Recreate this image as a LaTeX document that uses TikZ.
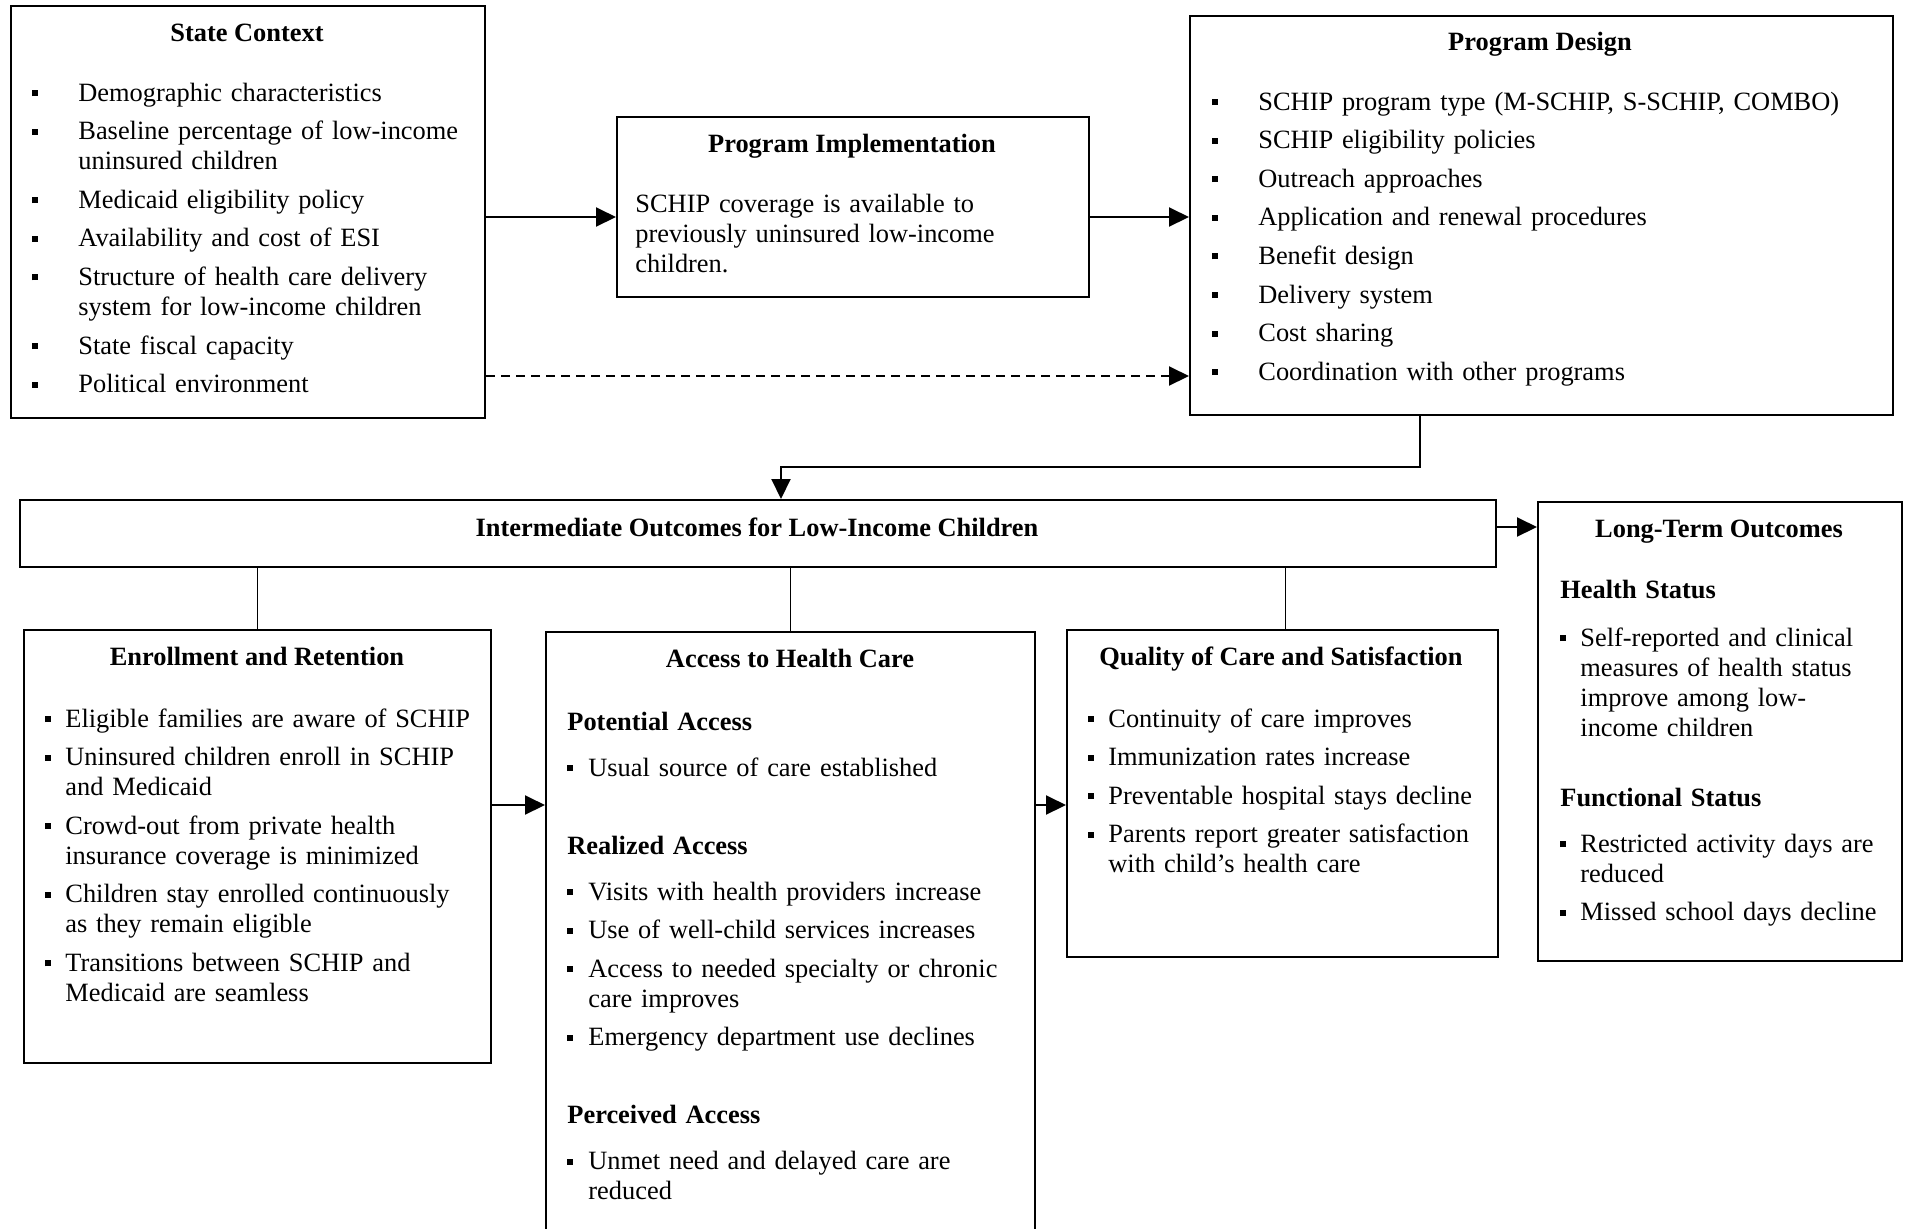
\documentclass[tikz,border=0pt]{standalone}
\usepackage{fontspec}
\setmainfont{Liberation Serif}
\usetikzlibrary{arrows.meta, positioning, calc}

\newlength{\itind}
\newlength{\itsep}
\setlength{\itsep}{4.3pt}
\newcommand{\bsq}{\rule[2.5pt]{3pt}{3pt}}
\newcommand{\nl}{\hfil\break}
\newcommand{\bitem}[1]{\hangindent=\itind\hangafter=1\makebox[\itind][l]{\bsq}#1\par\vspace{\itsep}}
\newcommand{\bhead}[2]{\textbf{#1}\par\vspace{#2}}

\begin{document}
\begin{tikzpicture}[
    x=0.5pt, y=-0.5pt,
    every node/.style={font=\fontsize{13.2}{15}\selectfont},
    box/.style={draw, line width=1pt, anchor=north west, inner sep=0pt},
    title/.style={anchor=base, inner sep=0pt, font=\fontsize{13.2}{15}\selectfont\bfseries},
    blist/.style={anchor=base west, inner sep=0pt, align=left, text width=#1,
        execute at begin node={\fontsize{13.2}{15}\selectfont}},
    ind/.code={\setlength{\itind}{#1}},
    arr/.style={line width=1pt, -{Triangle[length=10pt, width=9.5pt]}},
    link/.style={line width=0.6pt}
]
\useasboundingbox (0,0) rectangle (1908,1228);

% Top row
\node[box, minimum width=237pt, minimum height=206pt] (ctx) at (10,5) {};
\node[title] (ctxtitle) at (247,41) {State Context};
\node[blist=224pt, ind=23pt] (ctxlist) at (32,101) {%
    \bitem{Demographic characteristics}
    \bitem{Baseline percentage of low-income\nl uninsured children}
    \bitem{Medicaid eligibility policy}
    \bitem{Availability and cost of ESI}
    \bitem{Structure of health care delivery\nl system for low-income children}
    \bitem{State fiscal capacity}
    \bitem{Political environment}};

\node[box, minimum width=236pt, minimum height=90pt] (impl) at (616,116) {};
\node[title] (impltitle) at (852,152) {Program Implementation};
\node[blist=220pt] (impltext) at (635,212) {SCHIP coverage is available to\nl previously uninsured low-income\nl children.};

\node[box, minimum width=351.5pt, minimum height=199.5pt] (design) at (1189,15) {};
\node[title] (designtitle) at (1540,50) {Program Design};
\node[blist=335pt, ind=23pt] (designlist) at (1212,110) {%
    \bitem{SCHIP program type (M-SCHIP, S-SCHIP, COMBO)}
    \bitem{SCHIP eligibility policies}
    \bitem{Outreach approaches}
    \bitem{Application and renewal procedures}
    \bitem{Benefit design}
    \bitem{Delivery system}
    \bitem{Cost sharing}
    \bitem{Coordination with other programs}};

% Outcomes
\node[box, minimum width=738pt, minimum height=33.5pt] (inter) at (19,499) {};
\node[title] (intertitle) at (757,536) {Intermediate Outcomes for Low-Income Children};

\node[box, minimum width=182pt, minimum height=229.5pt] (longterm) at (1537,501) {};
\node[title] (longtermtitle) at (1719,537) {Long-Term Outcomes};
\node[blist=165pt, ind=10pt] (longtermlist) at (1560,598) {%
    \bhead{Health Status}{9pt}
    \bitem{Self-reported and clinical\nl measures of health status\nl improve among low-\nl income children}
    \vspace{15.7pt}
    \bhead{Functional Status}{8pt}
    \bitem{Restricted activity days are\nl reduced}
    \bitem{Missed school days decline}};

\node[box, minimum width=233.5pt, minimum height=216.5pt] (enroll) at (23,629) {};
\node[title] (enrolltitle) at (257,665) {Enrollment and Retention};
\node[blist=215pt, ind=10pt] (enrolllist) at (45,727) {%
    \bitem{Eligible families are aware of SCHIP}
    \bitem{Uninsured children enroll in SCHIP\nl and Medicaid}
    \bitem{Crowd-out from private health\nl insurance coverage is minimized}
    \bitem{Children stay enrolled continuously\nl as they remain eligible}
    \bitem{Transitions between SCHIP and\nl Medicaid are seamless}};

\node[box, minimum width=244.5pt, minimum height=300.5pt] (access) at (545,631) {};
\node[title] (accesstitle) at (790,667) {Access to Health Care};
\node[blist=225pt, ind=10.5pt] (accesslist) at (567,730) {%
    \bhead{Potential Access}{8pt}
    \bitem{Usual source of care established}
    \vspace{19.7pt}
    \bhead{Realized Access}{8pt}
    \bitem{Visits with health providers increase}
    \bitem{Use of well-child services increases}
    \bitem{Access to needed specialty or chronic\nl care improves}
    \bitem{Emergency department use declines}
    \vspace{19.7pt}
    \bhead{Perceived Access}{8pt}
    \bitem{Unmet need and delayed care are\nl reduced}};

\node[box, minimum width=215.5pt, minimum height=163.5pt] (quality) at (1066,629) {};
\node[title] (qualitytitle) at (1281,665) {Quality of Care and Satisfaction};
\node[blist=200pt, ind=10pt] (qualitylist) at (1088,727) {%
    \bitem{Continuity of care improves}
    \bitem{Immunization rates increase}
    \bitem{Preventable hospital stays decline}
    \bitem{Parents report greater satisfaction\nl with child's health care}};

% Connectors
\coordinate (toprow) at (0,217);
\coordinate (dashrow) at (0,376);
\coordinate (ltrow) at (0,527);
\coordinate (midrow) at (0,805);

\draw[arr] (ctx.east |- toprow) -- (impl.west |- toprow);
\draw[arr] (impl.east |- toprow) -- (design.west |- toprow);
\draw[arr, dash pattern=on 4.5pt off 3pt] (ctx.east |- dashrow) -- (design.west |- dashrow);
\draw[arr] ([xshift=-61pt]design.south) -- ++(0,51) -| ([xshift=11.5pt]inter.north);
\draw[arr] (inter.east |- ltrow) -- (longterm.west |- ltrow);

\draw[link] (enroll.north) -- (enroll.north |- inter.south);
\draw[link] (access.north) -- (access.north |- inter.south);
\draw[link] ([xshift=1.5pt]quality.north) -- ([xshift=1.5pt]quality.north |- inter.south);

\draw[arr] (enroll.east |- midrow) -- (access.west |- midrow);
\draw[arr] (access.east |- midrow) -- (quality.west |- midrow);
\end{tikzpicture}
\end{document}
